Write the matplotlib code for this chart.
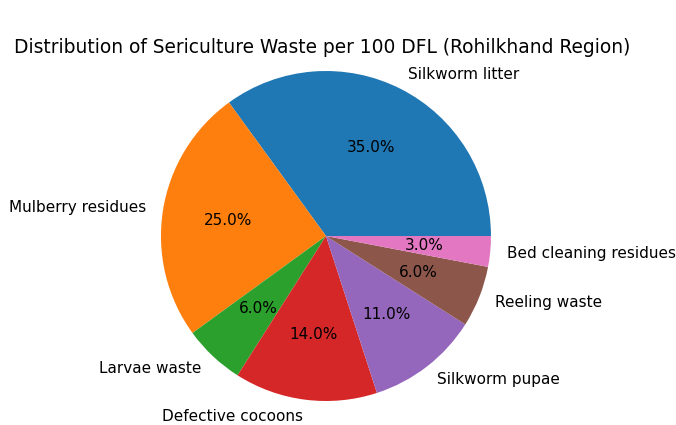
import matplotlib
matplotlib.use("Agg")
import matplotlib.pyplot as plt

labels = ["Silkworm litter", "Mulberry residues", "Larvae waste", "Defective cocoons",
          "Silkworm pupae", "Reeling waste", "Bed cleaning residues"]
shares = [35, 25, 6, 14, 11, 6, 3]

plt.rcParams["font.size"] = 11.0

fig = plt.figure(figsize=(6.76, 4.25), dpi=100)
ax = fig.add_axes([0.1771, -0.0406, 0.6102, 0.9706])
ax.pie(shares, labels=labels, autopct="%1.1f%%")
fig.text(0.476, 0.889, "Distribution of Sericulture Waste per 100 DFL (Rohilkhand Region)",
         ha="center", va="center", fontsize=13.4)
fig.savefig("out.png", dpi=100)
